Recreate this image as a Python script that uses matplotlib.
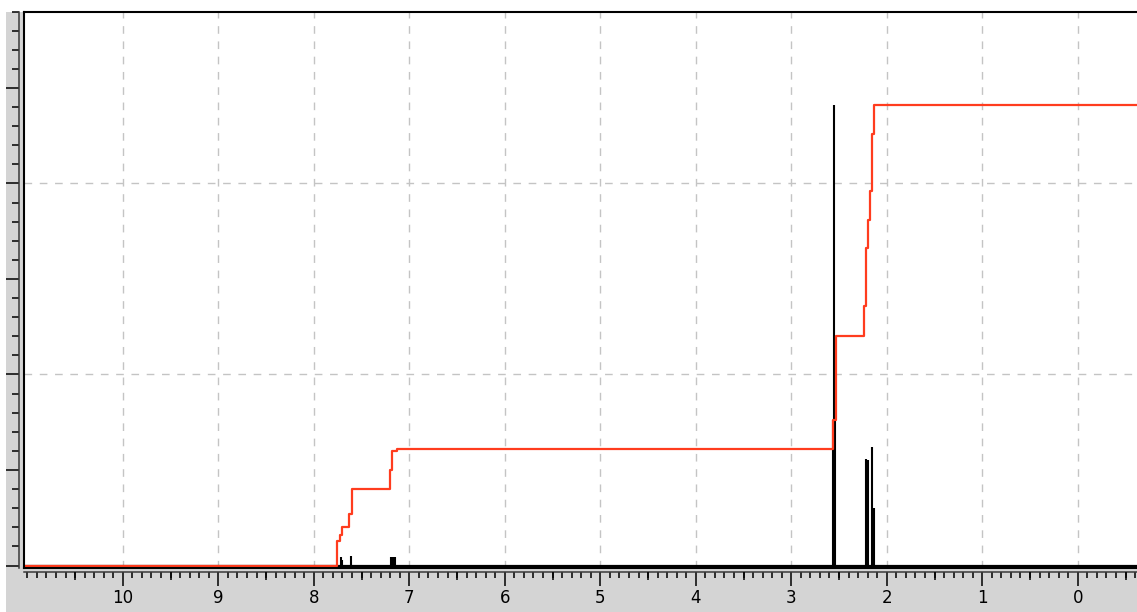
import matplotlib
matplotlib.use("Agg")
import matplotlib.pyplot as plt
from matplotlib.patches import Rectangle
from matplotlib.ticker import MultipleLocator, FixedLocator

# Spectrum peaks (chemical shift in ppm, relative intensity)
peak_ppm = [7.72, 7.70, 7.61, 7.19, 7.175, 7.16, 7.145,
            2.560, 2.548, 2.538, 2.217, 2.199, 2.151, 2.136]
peak_height = [0.045, 0.03, 0.05, 0.045, 0.045, 0.045, 0.045,
               0.76, 2.41, 1.06, 0.56, 0.55, 0.62, 0.30]

# Integral curve: shift where each step starts and the running integral after it
integral_ppm = [11.2, 7.76, 7.73, 7.71, 7.63, 7.60, 7.20, 7.18, 7.13,
                2.565, 2.534, 2.235, 2.215, 2.195, 2.175, 2.157, 2.133, -0.8]
integral_val = [0.0, 0.13, 0.16, 0.20, 0.27, 0.40, 0.50, 0.60, 0.61,
                0.76, 1.20, 1.36, 1.66, 1.81, 1.96, 2.26, 2.41, 2.41]

x_tick_values = list(range(0, 11))
x_tick_labels = [str(v) for v in x_tick_values]
grid_y = [1.0, 2.0]

W, H = 1137, 612
fig = plt.figure(figsize=(W / 100, H / 100), dpi=100)
fig.patch.set_facecolor("white")

# grey panel behind the plotting window
fig.patches.append(Rectangle((6 / W, 0), 1, (H - 12) / H, transform=fig.transFigure,
                             facecolor="#d4d4d4", edgecolor="none", zorder=-10))

ax = fig.add_axes([23.5 / W, (H - 568) / H, (W - 23.5) / W, (568 - 11.5) / H])
ax.set_facecolor("white")
ax.set_xlim(11.04, -0.62)
ax.set_ylim(-0.013, 2.90)

# frame
ax.spines["right"].set_visible(False)
ax.spines["top"].set_color("black")
ax.spines["top"].set_linewidth(1.5)
for side in ("left", "bottom"):
    ax.spines[side].set_position(("outward", 2.9))
    ax.spines[side].set_color("#3a3a3a")
    ax.spines[side].set_linewidth(1.1)
ax.plot([0, 1], [0, 0], transform=ax.transAxes, color="black", lw=1.5,
        clip_on=False, zorder=6)
ax.plot([0, 0], [0, 1], transform=ax.transAxes, color="black", lw=1.5,
        clip_on=False, zorder=6)

# dashed grid
grid_style = dict(color="#c4c4c4", lw=1.0, linestyle=(0, (5.5, 5.5)), zorder=1)
for xv in x_tick_values:
    ax.axvline(xv, **grid_style)
for yv in grid_y:
    ax.axhline(yv, **grid_style)

# spectrum: baseline and peaks
ax.axhline(0, color="black", lw=1.6, zorder=2)
ax.vlines(peak_ppm, 0, peak_height, color="black", lw=1.5, zorder=2)

# integral trace
ax.plot(integral_ppm, integral_val, drawstyle="steps-post", color="#ff3c1e",
        lw=1.6, zorder=3)

# x ticks
ax.xaxis.set_major_locator(FixedLocator(x_tick_values))
ax.set_xticklabels(x_tick_labels, fontsize=12, family="DejaVu Sans")
ax.xaxis.set_minor_locator(MultipleLocator(0.1))
ax.tick_params(axis="x", which="major", direction="out", length=10, width=1.1,
               pad=2.5, color="black")
ax.tick_params(axis="x", which="minor", direction="out", length=4, width=1.1,
               color="black")

# y ticks without labels
ax.yaxis.set_major_locator(MultipleLocator(0.5))
ax.yaxis.set_minor_locator(MultipleLocator(0.1))
ax.tick_params(axis="y", which="major", direction="out", length=9.5, width=1.1,
               labelleft=False, color="black")
ax.tick_params(axis="y", which="minor", direction="out", length=5, width=1.1,
               color="black")

# medium ticks on the half ppm
ax2 = ax.twiny()
ax2.set_xlim(ax.get_xlim())
ax2.xaxis.set_ticks_position("bottom")
ax2.spines["bottom"].set_position(("outward", 2.9))
for s in ax2.spines.values():
    s.set_visible(False)
ax2.xaxis.set_major_locator(FixedLocator([v + 0.5 for v in range(-1, 11)]))
ax2.tick_params(axis="x", which="major", direction="out", length=6, width=1.1,
                labelbottom=False, labeltop=False, color="black")
ax2.yaxis.set_visible(False)

fig.savefig("out.png", dpi=100, facecolor=fig.get_facecolor())
